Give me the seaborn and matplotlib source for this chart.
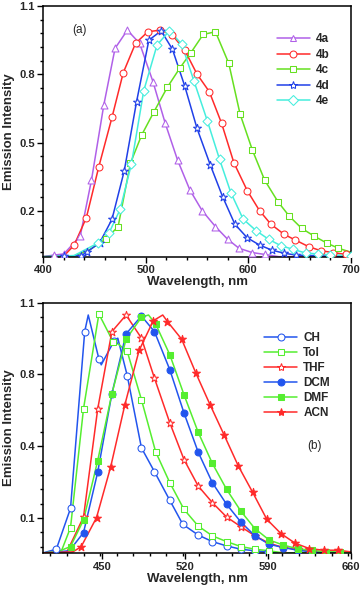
import numpy as np
import pandas as pd
import matplotlib
matplotlib.use("Agg")
import matplotlib.pyplot as plt
from matplotlib.ticker import MultipleLocator, FormatStrFormatter, FixedLocator
import seaborn as sns

sns.set_theme(style="ticks")
plt.rcParams['font.family'] = ['Liberation Sans', 'DejaVu Sans']

# ---------------- Panel (a) data ----------------
x_4a = [400, 410, 420, 436, 447, 459, 470, 482, 494, 507, 519, 531, 543, 555, 568, 580, 591, 604, 616, 630, 700]
y_4a = [0.0, 0.007, 0.012, 0.09, 0.336, 0.665, 0.914, 0.994, 0.936, 0.768, 0.585, 0.424, 0.293, 0.202, 0.132, 0.076, 0.037, 0.018, 0.01, 0.0, 0.0]
m_4a = [410, 420, 436, 447, 459, 470, 482, 494, 507, 519, 531, 543, 555, 568, 580, 591, 604, 616]

x_4b = [400, 420, 430, 442, 454, 467, 478, 490, 502, 514, 526, 538, 550, 562, 574, 586, 599, 611, 622, 635, 646, 659, 671, 683, 695, 700]
y_4b = [0.0, 0.003, 0.05, 0.171, 0.392, 0.611, 0.807, 0.936, 0.987, 0.994, 0.972, 0.906, 0.801, 0.724, 0.585, 0.412, 0.29, 0.202, 0.143, 0.098, 0.073, 0.044, 0.026, 0.018, 0.01, 0.008]
m_4b = [430, 442, 454, 467, 478, 490, 502, 514, 526, 538, 550, 562, 574, 586, 599, 611, 622, 635, 646, 659, 671, 683, 695]

x_4c = [400, 430, 445, 461, 473, 485, 496, 508, 521, 533, 544, 556, 568, 581, 592, 604, 616, 629, 640, 652, 664, 677, 688, 700]
y_4c = [0.0, 0.003, 0.03, 0.078, 0.132, 0.41, 0.534, 0.636, 0.743, 0.826, 0.895, 0.975, 0.987, 0.848, 0.626, 0.468, 0.336, 0.241, 0.178, 0.125, 0.091, 0.059, 0.037, 0.02]
m_4c = [461, 473, 485, 496, 508, 521, 533, 544, 556, 568, 581, 592, 604, 616, 629, 640, 652, 664, 677, 688]

x_4d = [400, 420, 437, 443, 455, 467, 479, 491, 503, 515, 526, 538, 550, 563, 575, 587, 599, 611, 623, 635, 647, 700]
y_4d = [0.0, 0.003, 0.005, 0.022, 0.061, 0.164, 0.377, 0.68, 0.95, 0.991, 0.91, 0.749, 0.563, 0.402, 0.263, 0.142, 0.083, 0.051, 0.029, 0.015, 0.007, 0.0]
m_4d = [420, 437, 443, 455, 467, 479, 491, 503, 515, 526, 538, 550, 563, 575, 587, 599, 611, 623, 635, 647]

x_4e = [400, 430, 453, 464, 475, 486, 498, 511, 523, 535, 547, 560, 572, 583, 595, 608, 620, 632, 644, 656, 668, 680, 700]
y_4e = [0.0, 0.005, 0.059, 0.103, 0.208, 0.407, 0.728, 0.929, 0.991, 0.933, 0.771, 0.597, 0.427, 0.281, 0.165, 0.113, 0.076, 0.048, 0.032, 0.016, 0.012, 0.008, 0.005]
m_4e = [453, 464, 475, 486, 498, 511, 523, 535, 547, 560, 572, 583, 595, 608, 620, 632, 644, 656, 668, 680, 700]

# ---------------- Panel (b) data ----------------
x_CH = [400, 411, 423, 435, 438, 447, 449, 460, 463, 471, 483, 494, 507, 518, 531, 543, 555, 567, 579, 590, 600, 660]
y_CH = [-0.12, -0.102, 0.097, 0.959, 1.04, 0.826, 0.797, 0.915, 0.927, 0.744, 0.392, 0.276, 0.136, 0.019, -0.033, -0.065, -0.086, -0.102, -0.11, -0.115, -0.12, -0.12]
m_CH = [411, 423, 435, 447, 460, 471, 483, 494, 507, 518, 531, 543, 555, 567, 579, 590]

x_Tol = [400, 415, 423, 434, 447, 459, 463, 471, 483, 495, 507, 519, 531, 543, 555, 567, 579, 591, 603, 660]
y_Tol = [-0.12, -0.115, 0.003, 0.583, 1.045, 0.91, 0.9, 0.862, 0.627, 0.373, 0.222, 0.092, 0.011, -0.037, -0.065, -0.089, -0.102, -0.11, -0.12, -0.12]
m_Tol = [423, 434, 447, 459, 471, 483, 495, 507, 519, 531, 543, 555, 567, 579, 591]

x_THF = [400, 420, 434, 446, 458, 470, 483, 494, 507, 519, 531, 543, 555, 567, 579, 591, 603, 615, 627, 660]
y_THF = [-0.12, -0.115, 0.055, 0.582, 0.959, 1.04, 0.927, 0.732, 0.514, 0.335, 0.206, 0.125, 0.055, 0.008, -0.037, -0.073, -0.094, -0.102, -0.115, -0.12]
m_THF = [434, 446, 458, 470, 483, 494, 507, 519, 531, 543, 555, 567, 579, 591, 603, 615, 627]

x_DCM = [400, 422, 434, 446, 458, 470, 483, 494, 507, 519, 531, 543, 555, 567, 579, 591, 603, 615, 627, 660]
y_DCM = [-0.12, -0.11, -0.021, 0.274, 0.656, 0.948, 1.035, 0.959, 0.773, 0.562, 0.371, 0.222, 0.117, 0.031, -0.037, -0.078, -0.094, -0.107, -0.115, -0.12]
m_DCM = [434, 446, 458, 470, 483, 494, 507, 519, 531, 543, 555, 567, 579, 591, 603, 615, 627]

x_DMF = [400, 412, 423, 434, 446, 458, 470, 483, 489, 495, 507, 519, 531, 543, 555, 567, 579, 591, 603, 615, 627, 639, 651, 660]
y_DMF = [-0.12, -0.115, -0.089, 0.04, 0.33, 0.656, 0.922, 1.029, 1.04, 0.996, 0.846, 0.651, 0.468, 0.316, 0.19, 0.084, -0.002, -0.057, -0.082, -0.1, -0.107, -0.115, -0.115, -0.12]
m_DMF = [423, 434, 446, 458, 470, 483, 495, 507, 519, 531, 543, 555, 567, 579, 591, 603, 615, 627, 639, 651]

x_ACN = [400, 425, 432, 445, 457, 469, 481, 493, 501, 505, 517, 529, 541, 553, 565, 577, 589, 601, 613, 625, 637, 649, 660]
y_ACN = [-0.12, -0.115, -0.09, 0.052, 0.3, 0.603, 0.867, 1.012, 1.04, 1.008, 0.922, 0.757, 0.603, 0.454, 0.303, 0.176, 0.044, -0.026, -0.073, -0.099, -0.107, -0.107, -0.115]
m_ACN = [432, 445, 457, 469, 481, 493, 505, 517, 529, 541, 553, 565, 577, 589, 601, 613, 625, 637, 649]

labels_a = ["4a", "4b", "4c", "4d", "4e"]
labels_b = ["CH", "Tol", "THF", "DCM", "DMF", "ACN"]

fig = plt.figure(figsize=(3.61, 5.92), dpi=100)
ax1 = fig.add_axes([0.12, 0.5664, 0.8515, 0.4235])
ax2 = fig.add_axes([0.12, 0.0654, 0.8515, 0.4233])

def draw(ax, x, y, mx, color, marker, filled, label, ms=5.0):
    df = pd.DataFrame({"x": x, "y": y})
    sns.lineplot(data=df, x="x", y="y", ax=ax, color=color, lw=1.1, sort=False,
                 estimator=None)
    my = np.interp(mx, x, y)
    fc = color if filled else "white"
    sns.scatterplot(x=mx, y=my, ax=ax, marker=marker, s=ms**2, facecolor=fc,
                    edgecolor=color, linewidth=0.75, zorder=3)
    h, = ax.plot([], [], color=color, lw=1.1, marker=marker, ms=ms,
                 mfc=fc, mec=color, mew=0.75, label=label)
    return h

purple = "#B060E8"; red = "#FF2A2A"; green = "#66E020"; blue = "#2040E8"; cyan = "#45EEDD"
ha = []
ha.append(draw(ax1, x_4a, y_4a, m_4a, purple, "^", False, labels_a[0]))
ha.append(draw(ax1, x_4b, y_4b, m_4b, red, "o", False, labels_a[1]))
ha.append(draw(ax1, x_4c, y_4c, m_4c, green, "s", False, labels_a[2], ms=4.6))
ha.append(draw(ax1, x_4d, y_4d, m_4d, blue, "*", False, labels_a[3], ms=6.0))
ha.append(draw(ax1, x_4e, y_4e, m_4e, cyan, "D", False, labels_a[4], ms=4.6))

blue2 = "#2255EE"; green2 = "#55EE30"
hb = []
hb.append(draw(ax2, x_CH, y_CH, m_CH, blue2, "o", False, labels_b[0]))
hb.append(draw(ax2, x_Tol, y_Tol, m_Tol, green2, "s", False, labels_b[1], ms=4.6))
hb.append(draw(ax2, x_THF, y_THF, m_THF, red, "*", False, labels_b[2], ms=6.0))
hb.append(draw(ax2, x_DCM, y_DCM, m_DCM, blue2, "o", True, labels_b[3]))
hb.append(draw(ax2, x_DMF, y_DMF, m_DMF, green2, "s", True, labels_b[4], ms=4.6))
hb.append(draw(ax2, x_ACN, y_ACN, m_ACN, red, "*", True, labels_b[5], ms=6.0))

for ax in (ax1, ax2):
    for sp in ax.spines.values():
        sp.set_linewidth(1.1)
        sp.set_color("black")
    ax.tick_params(which="both", direction="out", top=False, right=False, width=1.0, color="black")
    ax.tick_params(which="major", length=4, labelsize=8, pad=2)
    ax.tick_params(which="minor", length=2.5)
    ax.set_xlabel("Wavelength, nm", fontsize=9.5, fontweight="bold", labelpad=1)
    ax.set_ylabel("Emission Intensity", fontsize=9.5, fontweight="bold", labelpad=3)

ax1.set_xlim(400, 700)
ax1.set_ylim(0, 1.1)
ax1.xaxis.set_major_locator(MultipleLocator(100))
ax1.xaxis.set_minor_locator(MultipleLocator(20))
ax1.yaxis.set_major_locator(FixedLocator([0.2, 0.5, 0.8, 1.1]))
ax1.yaxis.set_minor_locator(FixedLocator(np.arange(0.02, 1.1, 0.06)))
ax1.yaxis.set_major_formatter(FormatStrFormatter("%.1f"))

ax2.set_xlim(400, 660)
ax2.set_ylim(-0.122, 1.1)
ax2.xaxis.set_major_locator(FixedLocator([450, 520, 590, 660]))
ax2.xaxis.set_minor_locator(MultipleLocator(14))
ax2.yaxis.set_major_locator(FixedLocator([0.05, 0.4, 0.75, 1.1]))
ax2.yaxis.set_minor_locator(FixedLocator(np.arange(-0.09, 1.1, 0.07)))
ax2.yaxis.set_major_formatter(FormatStrFormatter("%.1f"))

for ax in (ax1, ax2):
    for t in ax.get_xticklabels() + ax.get_yticklabels():
        t.set_fontweight("bold")

ax1.legend(handles=ha, loc="upper left", bbox_to_anchor=(0.74, 0.915), frameon=False,
           prop=dict(size=8.5, weight="bold"), handlelength=2.8, labelspacing=0.3,
           handletextpad=0.5, borderpad=0)
ax2.legend(handles=hb, loc="upper left", bbox_to_anchor=(0.70, 0.905), frameon=False,
           prop=dict(size=8.5, weight="bold"), handlelength=2.8, labelspacing=0.25,
           handletextpad=0.5, borderpad=0)

ax1.text(0.093, 0.905, "(a)", transform=ax1.transAxes, fontsize=8.5, ha="left", va="center")
ax2.text(0.86, 0.43, "(b)", transform=ax2.transAxes, fontsize=8.5, ha="left", va="center")

fig.savefig("out.png", dpi=100)
